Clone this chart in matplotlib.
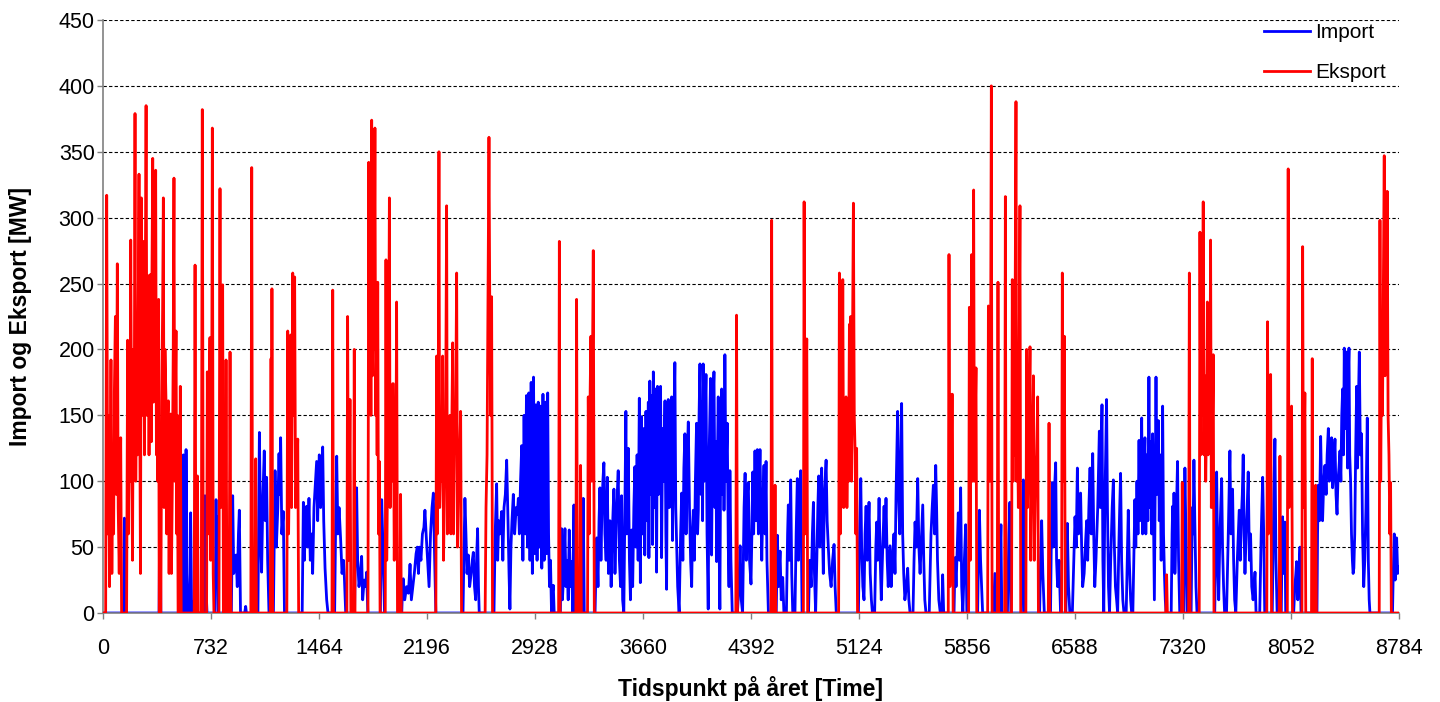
import numpy as np
import matplotlib
matplotlib.use('Agg')
import matplotlib.pyplot as plt

# Hourly import / export (hour of year, MW)
import_points = [
    (0, 0), (140, 0), (145, 72), (152, 0), (380, 0), (386, 103), (392, 0), (540, 0),
    (545, 120), (552, 40), (557, 0), (563, 124), (570, 30), (578, 0), (590, 0), (594, 76), (600, 10), (610, 0),
    (685, 0), (691, 89), (698, 20), (705, 0), (760, 0), (766, 86), (770, 30), (775, 73), (782, 0), (870, 0),
    (879, 89), (886, 30), (895, 40), (902, 44), (910, 20), (918, 60), (924, 78), (932, 0), (960, 0), (967, 5),
    (972, 0), (1050, 0), (1060, 137), (1068, 60), (1075, 31), (1084, 90), (1093, 123), (1100, 70), (1109, 103),
    (1116, 40), (1125, 0), (1155, 0), (1166, 108), (1175, 50), (1185, 80), (1193, 121), (1198, 90), (1204, 133),
    (1212, 60), (1222, 77), (1230, 0), (1350, 0), (1358, 84), (1365, 40), (1372, 70), (1380, 81), (1388, 50),
    (1396, 87), (1405, 40), (1415, 60), (1421, 30), (1430, 80), (1440, 100), (1448, 115), (1455, 70), (1460, 100),
    (1466, 120), (1475, 80), (1482, 110), (1489, 126), (1496, 70), (1505, 34), (1516, 10), (1525, 0),
    (1570, 0), (1578, 80), (1584, 119), (1592, 60), (1600, 80), (1611, 55), (1620, 30), (1630, 40), (1636, 27),
    (1645, 0), (1705, 0), (1712, 60), (1719, 95), (1726, 40), (1735, 20), (1745, 30), (1753, 43), (1760, 10),
    (1770, 25), (1780, 20), (1787, 31), (1795, 0), (1880, 0), (1889, 86), (1895, 60), (1900, 40), (1908, 0),
    (2025, 0), (2030, 20), (2035, 26), (2045, 10), (2058, 20), (2070, 15), (2081, 37), (2090, 10), (2100, 20),
    (2110, 30), (2122, 45), (2130, 50), (2138, 30), (2145, 50), (2155, 40), (2165, 60), (2175, 65), (2182, 78),
    (2190, 60), (2200, 40), (2210, 20), (2220, 60), (2230, 80), (2239, 91), (2248, 40), (2256, 0),
    (2440, 0), (2447, 50), (2453, 87), (2460, 60), (2467, 30), (2476, 44), (2485, 20), (2495, 30), (2503, 40),
    (2510, 46), (2518, 20), (2526, 10), (2532, 40), (2539, 64), (2545, 20), (2550, 0),
    (2650, 0), (2658, 60), (2668, 98), (2675, 40), (2682, 70), (2690, 60), (2702, 77), (2710, 40), (2718, 80),
    (2727, 90), (2736, 116), (2745, 70), (2752, 30), (2758, 3), (2765, 50), (2772, 70), (2781, 90), (2790, 60),
    (2800, 80), (2808, 75), (2815, 87), (2822, 60), (2830, 100), (2838, 127), (2846, 40), (2854, 150), (2862, 60),
    (2870, 165), (2878, 50), (2886, 167), (2894, 40), (2902, 175), (2910, 30), (2918, 179), (2926, 45),
    (2934, 158), (2942, 40), (2950, 160), (2958, 50), (2966, 157), (2974, 34), (2982, 166), (2990, 40),
    (2998, 160), (3006, 45), (3014, 167), (3020, 60), (3026, 20), (3033, 40), (3040, 0), (3046, 15), (3052, 21),
    (3058, 0), (3100, 0), (3108, 64), (3114, 10), (3122, 30), (3131, 64), (3138, 20), (3145, 40), (3153, 10),
    (3160, 63), (3168, 20), (3176, 39), (3184, 0), (3188, 50), (3192, 82), (3198, 0), (3248, 0), (3255, 87),
    (3262, 0), (3335, 0), (3346, 57), (3355, 20), (3362, 70), (3368, 95), (3375, 40), (3382, 80), (3388, 100),
    (3395, 114), (3402, 60), (3410, 40), (3418, 103), (3426, 30), (3436, 70), (3444, 20), (3452, 60), (3458, 80),
    (3463, 94), (3470, 30), (3478, 70), (3485, 90), (3492, 108), (3500, 40), (3508, 20), (3515, 89), (3522, 10),
    (3530, 0), (3537, 80), (3544, 153), (3550, 60), (3560, 125), (3568, 40), (3575, 10), (3583, 63), (3590, 20),
    (3598, 80), (3605, 111), (3612, 50), (3620, 120), (3627, 40), (3635, 163), (3642, 23), (3650, 149),
    (3658, 60), (3666, 140), (3672, 44), (3680, 153), (3688, 70), (3696, 160), (3700, 42), (3706, 176),
    (3714, 90), (3720, 165), (3725, 52), (3730, 183), (3738, 80), (3745, 170), (3752, 31), (3758, 172),
    (3765, 90), (3772, 150), (3779, 172), (3786, 42), (3793, 140), (3800, 100), (3809, 161), (3815, 60),
    (3820, 18), (3826, 150), (3831, 162), (3838, 80), (3845, 140), (3854, 164), (3860, 55), (3867, 130),
    (3876, 190), (3882, 80), (3888, 52), (3895, 20), (3905, 0), (3915, 60), (3922, 91), (3930, 40), (3937, 110),
    (3944, 136), (3952, 60), (3960, 120), (3967, 145), (3975, 80), (3983, 39), (3990, 20), (3995, 60),
    (4001, 78), (4008, 40), (4015, 100), (4023, 144), (4030, 60), (4035, 78), (4040, 150), (4046, 189),
    (4053, 90), (4060, 160), (4064, 70), (4068, 189), (4075, 100), (4081, 150), (4087, 181), (4094, 60),
    (4102, 3), (4108, 120), (4118, 178), (4125, 44), (4132, 150), (4141, 183), (4148, 80), (4154, 130),
    (4159, 39), (4165, 120), (4170, 164), (4176, 50), (4181, 3), (4187, 130), (4193, 170), (4200, 90),
    (4207, 160), (4209, 78), (4215, 196), (4222, 100), (4231, 144), (4238, 50), (4243, 20), (4249, 108),
    (4256, 40), (4265, 0), (4300, 0), (4310, 20), (4318, 51), (4326, 10), (4335, 0), (4345, 80), (4352, 106),
    (4360, 40), (4367, 90), (4374, 99), (4382, 40), (4392, 22), (4398, 60), (4404, 107), (4410, 60), (4419, 123),
    (4427, 70), (4435, 124), (4442, 60), (4448, 100), (4453, 124), (4460, 70), (4465, 40), (4472, 80),
    (4480, 112), (4487, 60), (4494, 115), (4500, 40), (4510, 0), (4563, 0), (4571, 59), (4578, 20), (4589, 47),
    (4597, 10), (4607, 27), (4615, 0), (4632, 0), (4640, 60), (4645, 82), (4652, 40), (4661, 101), (4668, 30),
    (4675, 0), (4690, 0), (4698, 60), (4706, 102), (4713, 40), (4720, 80), (4729, 108), (4738, 0),
    (4782, 0), (4790, 40), (4800, 20), (4808, 60), (4815, 84), (4822, 30), (4830, 0), (4838, 40), (4845, 80),
    (4851, 104), (4858, 50), (4865, 90), (4871, 110), (4877, 60), (4882, 30), (4890, 90), (4901, 116),
    (4908, 70), (4916, 50), (4925, 30), (4935, 20), (4945, 40), (4955, 52), (4962, 20), (4970, 0),
    (5120, 0), (5128, 60), (5136, 102), (5142, 50), (5150, 20), (5158, 10), (5165, 60), (5172, 81), (5180, 40),
    (5186, 60), (5192, 84), (5200, 30), (5208, 10), (5215, 0), (5230, 0), (5238, 50), (5244, 69), (5250, 40),
    (5260, 87), (5268, 40), (5275, 10), (5285, 50), (5294, 81), (5300, 50), (5307, 87), (5315, 40), (5322, 20),
    (5334, 51), (5342, 20), (5350, 40), (5361, 60), (5368, 30), (5375, 90), (5386, 153), (5392, 90), (5400, 60),
    (5406, 110), (5413, 159), (5420, 60), (5427, 30), (5435, 10), (5445, 20), (5454, 34), (5462, 10), (5470, 0),
    (5490, 0), (5497, 40), (5504, 69), (5512, 50), (5522, 102), (5530, 50), (5538, 30), (5548, 60), (5556, 82),
    (5563, 40), (5570, 10), (5578, 0), (5600, 0), (5612, 60), (5620, 80), (5628, 97), (5636, 60), (5644, 112),
    (5650, 80), (5656, 40), (5665, 10), (5675, 0), (5685, 0), (5691, 29), (5698, 0),
    (5768, 0), (5775, 42), (5782, 20), (5790, 50), (5797, 76), (5805, 40), (5813, 95), (5820, 20), (5828, 0),
    (5838, 40), (5847, 67), (5855, 0), (5928, 0), (5935, 50), (5940, 78), (5948, 40), (5955, 20), (5962, 0),
    (6035, 0), (6045, 30), (6055, 0), (6075, 0), (6080, 40), (6086, 67), (6092, 0), (6130, 0), (6140, 60),
    (6147, 84), (6153, 0), (6225, 0), (6232, 70), (6238, 101), (6245, 0), (6348, 0), (6355, 40), (6362, 70),
    (6370, 30), (6380, 0), (6422, 0), (6428, 60), (6434, 99), (6440, 50), (6448, 90), (6457, 114), (6463, 40),
    (6470, 20), (6480, 40), (6490, 0), (6526, 0), (6531, 40), (6536, 68), (6544, 20), (6553, 0), (6570, 0),
    (6580, 40), (6588, 73), (6596, 50), (6604, 110), (6612, 60), (6620, 70), (6626, 91), (6633, 50), (6640, 20),
    (6650, 30), (6658, 50), (6667, 70), (6674, 40), (6682, 80), (6690, 110), (6698, 60), (6704, 90), (6708, 121),
    (6715, 60), (6722, 20), (6730, 40), (6742, 80), (6753, 138), (6760, 80), (6765, 120), (6771, 158), (6777, 40),
    (6783, 0), (6790, 80), (6796, 120), (6802, 162), (6808, 80), (6815, 20), (6822, 0), (6830, 40), (6840, 80),
    (6848, 101), (6855, 50), (6862, 20), (6870, 10), (6877, 0), (6885, 50), (6891, 80), (6897, 106), (6904, 40),
    (6912, 10), (6920, 0), (6935, 0), (6942, 40), (6949, 78), (6956, 40), (6965, 10), (6972, 0), (6980, 0),
    (6988, 50), (6994, 86), (7000, 50), (7008, 100), (7015, 60), (7022, 131), (7028, 70), (7034, 110),
    (7040, 148), (7046, 60), (7053, 100), (7062, 133), (7068, 60), (7075, 120), (7082, 70), (7089, 179),
    (7095, 80), (7102, 130), (7108, 60), (7114, 136), (7120, 70), (7126, 10), (7132, 100), (7137, 179),
    (7143, 90), (7148, 120), (7153, 146), (7159, 70), (7165, 120), (7172, 40), (7178, 90), (7182, 157),
    (7188, 60), (7194, 30), (7200, 10), (7205, 0), (7240, 0), (7246, 60), (7250, 81), (7255, 40), (7259, 91),
    (7265, 30), (7272, 60), (7278, 90), (7283, 115), (7290, 40), (7298, 0), (7325, 0), (7328, 60), (7333, 110),
    (7340, 60), (7348, 0), (7375, 0), (7383, 80), (7388, 60), (7394, 116), (7400, 70), (7408, 20), (7415, 0),
    (7535, 0), (7542, 50), (7548, 107), (7555, 40), (7562, 10), (7570, 60), (7576, 80), (7582, 102), (7588, 50),
    (7595, 20), (7602, 0), (7615, 0), (7625, 50), (7632, 90), (7638, 123), (7645, 60), (7650, 80), (7656, 94),
    (7663, 40), (7670, 10), (7678, 0), (7688, 40), (7695, 60), (7701, 78), (7708, 40), (7715, 70), (7722, 90),
    (7728, 120), (7734, 60), (7740, 30), (7748, 60), (7755, 80), (7762, 107), (7770, 40), (7778, 60), (7786, 20),
    (7795, 10), (7802, 20), (7808, 31), (7815, 0), (7840, 0), (7850, 60), (7855, 80), (7860, 103), (7867, 60),
    (7874, 0), (7925, 0), (7932, 60), (7937, 100), (7943, 132), (7950, 40), (7958, 0), (7986, 0), (7990, 40),
    (7995, 73), (8002, 30), (8011, 69), (8016, 0), (8070, 0), (8078, 20), (8085, 30), (8090, 39), (8098, 10),
    (8105, 30), (8113, 50), (8120, 0), (8228, 0), (8232, 60), (8237, 97), (8245, 70), (8253, 134), (8260, 90),
    (8266, 70), (8274, 100), (8282, 112), (8290, 90), (8297, 120), (8305, 140), (8312, 100), (8320, 110),
    (8327, 133), (8334, 95), (8342, 110), (8350, 132), (8357, 90), (8364, 75), (8370, 100), (8377, 110),
    (8384, 123), (8390, 100), (8396, 150), (8402, 170), (8408, 120), (8413, 201), (8420, 140), (8425, 180),
    (8429, 198), (8435, 110), (8440, 180), (8445, 201), (8450, 120), (8456, 100), (8462, 60), (8468, 40),
    (8473, 30), (8478, 34), (8484, 60), (8490, 120), (8497, 172), (8503, 110), (8509, 160), (8515, 198),
    (8522, 120), (8530, 136), (8537, 60), (8545, 20), (8552, 40), (8560, 80), (8569, 148), (8576, 40),
    (8582, 10), (8587, 0), (8740, 0), (8745, 30), (8752, 60), (8758, 25), (8763, 55), (8768, 57), (8775, 30),
    (8784, 35),
]

export_points = [
    (0, 0), (18, 0), (25, 317), (32, 60), (38, 150), (44, 20), (50, 110), (54, 192), (60, 30), (66, 120),
    (72, 60), (77, 168), (84, 225), (90, 90), (97, 265), (103, 80), (110, 30), (116, 100), (120, 133), (126, 0),
    (160, 0), (167, 207), (172, 60), (178, 150), (183, 100), (188, 283), (194, 120), (200, 40), (206, 200),
    (212, 150), (217, 379), (222, 100), (228, 200), (233, 120), (238, 220), (244, 333), (250, 130), (254, 30),
    (260, 315), (266, 150), (271, 220), (276, 282), (281, 120), (286, 230), (292, 385), (298, 150), (302, 250),
    (307, 256), (312, 120), (318, 250), (323, 257), (328, 130), (332, 260), (337, 345), (342, 160), (348, 180),
    (352, 250), (357, 336), (362, 120), (367, 200), (372, 100), (377, 238), (381, 0), (392, 0), (398, 160),
    (404, 230), (409, 315), (414, 80), (420, 200), (427, 161), (432, 60), (437, 150), (443, 161), (448, 30),
    (453, 120), (459, 151), (464, 30), (470, 100), (476, 200), (481, 330), (486, 100), (490, 160), (495, 214),
    (500, 60), (504, 150), (509, 0), (518, 0), (524, 172), (530, 0),
    (618, 0), (624, 264), (630, 0), (636, 0), (640, 104), (645, 0), (666, 0), (673, 382), (680, 0), (702, 0),
    (707, 183), (712, 60), (718, 150), (725, 209), (730, 40), (736, 120), (741, 368), (747, 30), (752, 0),
    (786, 0), (793, 322), (798, 80), (804, 150), (811, 249), (816, 0), (828, 0), (834, 192), (840, 0), (855, 0),
    (861, 198), (867, 0), (1002, 0), (1008, 338), (1014, 0), (1030, 0), (1035, 117), (1040, 0), (1134, 0),
    (1139, 193), (1142, 60), (1145, 246), (1150, 0), (1246, 0), (1252, 214), (1258, 60), (1264, 120),
    (1272, 211), (1278, 80), (1286, 258), (1292, 150), (1299, 255), (1305, 80), (1312, 100), (1320, 132),
    (1326, 0), (1552, 0), (1557, 245), (1562, 0), (1653, 0), (1658, 225), (1664, 40), (1670, 100), (1674, 162),
    (1680, 0), (1698, 0), (1703, 200), (1708, 0), (1796, 0), (1801, 342), (1806, 200), (1811, 280), (1816, 150),
    (1821, 374), (1826, 180), (1832, 250), (1837, 200), (1843, 368), (1848, 150), (1854, 200), (1858, 120),
    (1862, 251), (1867, 60), (1873, 115), (1878, 0), (1913, 0), (1918, 268), (1923, 40), (1930, 120),
    (1936, 180), (1941, 315), (1946, 80), (1952, 130), (1958, 100), (1963, 174), (1968, 174), (1974, 40),
    (1980, 120), (1985, 100), (1990, 236), (1996, 0), (2012, 0), (2017, 90), (2022, 0),
    (2256, 0), (2261, 195), (2266, 60), (2272, 150), (2277, 350), (2282, 80), (2290, 120), (2296, 100),
    (2302, 195), (2308, 40), (2315, 100), (2322, 140), (2329, 309), (2334, 60), (2340, 100), (2346, 120),
    (2352, 150), (2358, 60), (2364, 140), (2370, 205), (2376, 60), (2382, 120), (2390, 150), (2397, 258),
    (2403, 50), (2410, 100), (2417, 120), (2424, 153), (2430, 0), (2590, 0), (2596, 80), (2603, 120),
    (2610, 250), (2616, 361), (2622, 220), (2628, 150), (2634, 240), (2640, 0),
    (3088, 0), (3093, 282), (3098, 0), (3205, 0), (3210, 238), (3215, 20), (3220, 0), (3232, 0), (3237, 112),
    (3242, 0), (3284, 0), (3289, 164), (3295, 60), (3302, 170), (3307, 210), (3312, 100), (3318, 200),
    (3323, 275), (3330, 0), (4289, 0), (4294, 226), (4300, 0), (4527, 0), (4532, 298), (4538, 0), (4550, 0),
    (4555, 97), (4560, 0), (4747, 0), (4752, 312), (4758, 60), (4764, 150), (4770, 208), (4776, 0),
    (4986, 0), (4991, 258), (4997, 60), (5003, 150), (5008, 100), (5014, 253), (5020, 80), (5028, 130),
    (5036, 164), (5042, 80), (5048, 130), (5053, 100), (5059, 219), (5064, 120), (5068, 225), (5074, 100),
    (5080, 200), (5086, 311), (5092, 150), (5098, 120), (5103, 60), (5108, 125), (5114, 0),
    (5729, 0), (5734, 272), (5740, 20), (5748, 60), (5753, 166), (5757, 166), (5762, 0), (5867, 0),
    (5872, 232), (5878, 40), (5883, 150), (5888, 272), (5893, 100), (5897, 200), (5901, 321), (5906, 100),
    (5912, 150), (5917, 186), (5922, 0), (5996, 0), (6001, 233), (6006, 150), (6011, 100), (6016, 200),
    (6021, 400), (6026, 0), (6061, 0), (6066, 251), (6071, 0), (6111, 0), (6116, 316), (6121, 0), (6158, 0),
    (6163, 253), (6168, 100), (6173, 200), (6178, 120), (6183, 250), (6188, 388), (6193, 100), (6198, 150),
    (6204, 80), (6210, 200), (6215, 309), (6220, 0), (6255, 0), (6260, 200), (6266, 80), (6272, 120),
    (6278, 150), (6283, 202), (6288, 40), (6294, 100), (6300, 130), (6306, 180), (6312, 40), (6320, 100),
    (6328, 120), (6335, 164), (6340, 0), (6407, 0), (6412, 144), (6417, 0), (6497, 0), (6502, 258),
    (6508, 100), (6512, 160), (6516, 210), (6522, 0),
    (7204, 0), (7209, 29), (7214, 0), (7310, 0), (7315, 99), (7320, 0), (7358, 0), (7363, 258), (7368, 0),
    (7430, 0), (7435, 289), (7440, 120), (7446, 200), (7452, 150), (7457, 312), (7462, 120), (7468, 180),
    (7474, 100), (7480, 150), (7485, 236), (7490, 120), (7496, 200), (7502, 150), (7507, 283), (7512, 80),
    (7518, 120), (7525, 196), (7530, 0), (7888, 0), (7893, 221), (7898, 60), (7905, 120), (7910, 160),
    (7914, 181), (7920, 0), (7972, 0), (7977, 119), (7982, 0), (8027, 0), (8033, 337), (8038, 80), (8044, 120),
    (8050, 140), (8056, 157), (8062, 0), (8126, 0), (8131, 278), (8136, 80), (8141, 120), (8146, 167),
    (8152, 0), (8191, 0), (8196, 193), (8201, 0), (8214, 0), (8219, 97), (8224, 0), (8650, 0), (8655, 298),
    (8660, 100), (8666, 200), (8672, 150), (8678, 250), (8684, 347), (8690, 180), (8696, 250), (8700, 200),
    (8704, 320), (8710, 150), (8716, 120), (8722, 60), (8727, 99), (8732, 0), (8784, 0),
]

x_ticks = list(range(0, 8785, 732))
y_ticks = list(range(0, 451, 50))

imp = np.array(import_points)
exp = np.array(export_points)

plt.rcParams['font.family'] = ['Liberation Sans', 'DejaVu Sans']

fig = plt.figure(figsize=(14.4, 7.02), dpi=100)
ax = fig.add_axes([103 / 1440, 1 - 613 / 702, 1296 / 1440, 593 / 702])

# horizontal dashed grid
for yv in y_ticks[1:]:
    ax.axhline(yv, color='black', lw=0.8, ls=(0, (3, 2)), zorder=1)

ax.plot(imp[:, 0], imp[:, 1], color='#0000ff', lw=2.0, label='Import', zorder=2)
ax.plot(exp[:, 0], exp[:, 1], color='#ff0000', lw=2.0, label='Eksport', zorder=3)

ax.set_xlim(0, 8784)
ax.set_ylim(0, 450)
ax.set_xticks(x_ticks)
ax.set_yticks(y_ticks)
ax.tick_params(axis='both', labelsize=15.5, color='#808080', length=4, width=1)
ax.tick_params(axis='x', pad=14)
ax.tick_params(axis='y', pad=2)

for s in ['top', 'right']:
    ax.spines[s].set_visible(False)
for s in ['left', 'bottom']:
    ax.spines[s].set_color('#808080')
    ax.spines[s].set_linewidth(1.2)

ax.set_xlabel('Tidspunkt på året [Time]', fontsize=16.5, fontweight='bold', labelpad=12)
ax.set_ylabel('Import og Eksport [MW]', fontsize=16.5, fontweight='bold', labelpad=19)

leg = ax.legend(loc='upper right', frameon=False, fontsize=15, handlelength=2.2, handletextpad=0.25,
                labelspacing=1.0, borderaxespad=0.1, bbox_to_anchor=(0.998, 1.012))
for h in leg.get_lines():
    h.set_linewidth(2.0)

fig.savefig('out.png', dpi=100)
